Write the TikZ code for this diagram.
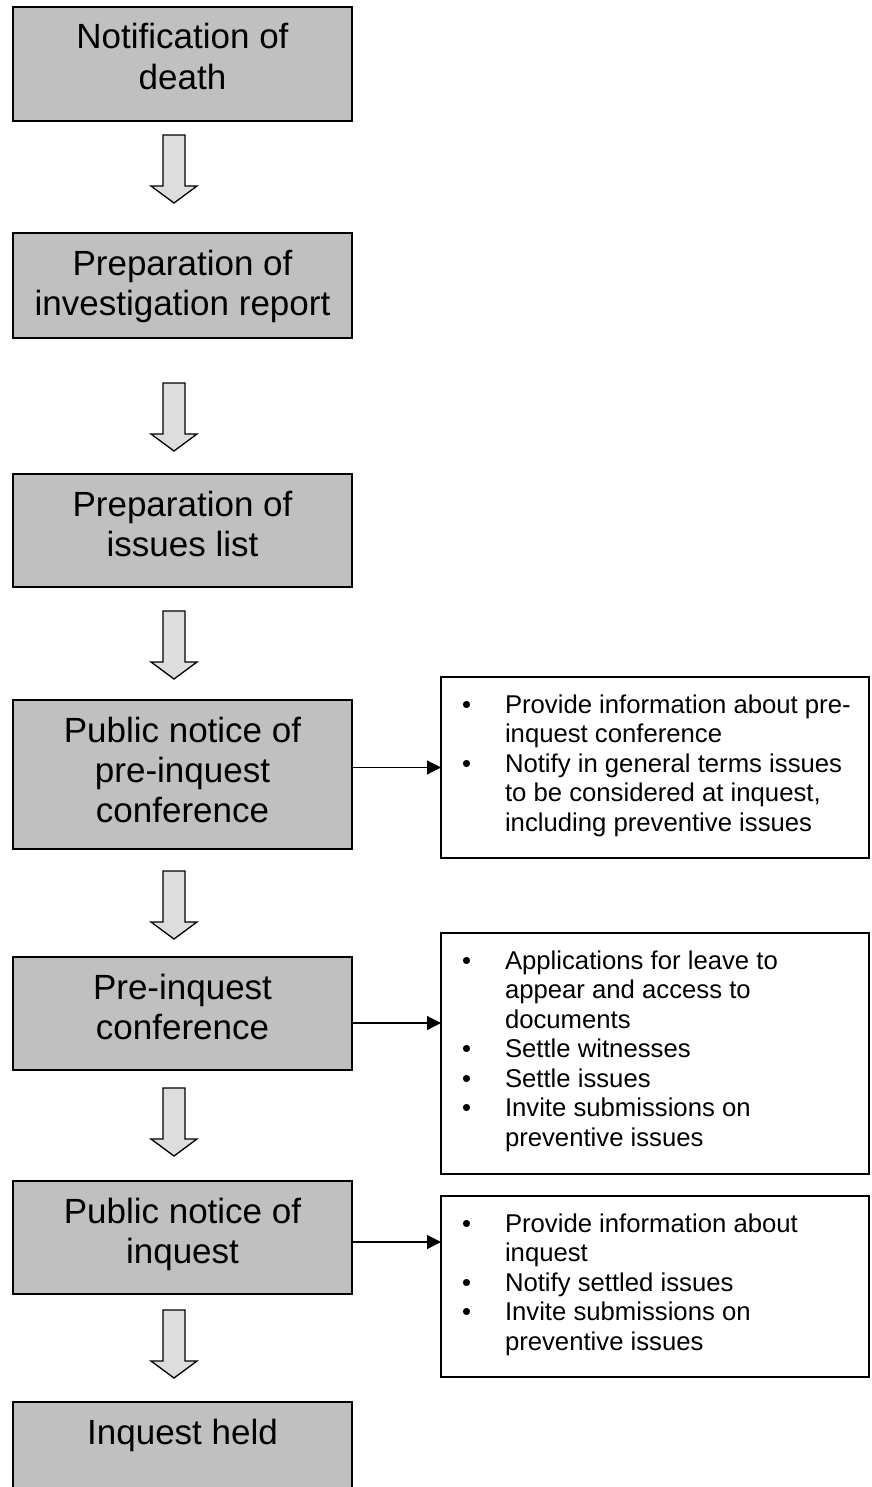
\documentclass[tikz,border=0pt]{standalone}
\usepackage{fontspec}
\setmainfont{Liberation Sans}
\usetikzlibrary{arrows.meta}
\definecolor{boxgray}{HTML}{C0C0C0}
\definecolor{arrowgray}{HTML}{DDDDDD}
\newcommand\bigtxt{\fontsize{35}{40.3}\selectfont}
\newcommand\smtxt{\fontsize{25.7}{29.5}\selectfont}
\newcommand\boxtext[2]{\parbox[c][#1][t]{339pt}{\centering\bigtxt\rule{0pt}{42pt}#2}}
\newcommand\bitem[1]{\par\noindent\hangindent=64pt\hangafter=1\hspace*{21pt}\makebox[43pt][l]{\strut\textbullet}#1}
\newcommand\sidetext[2]{\parbox[c][#1][t]{428pt}{\smtxt\vspace*{15.35pt}#2}}
\tikzset{
  bigbox/.style={draw=black, fill=boxgray, line width=1.4pt, inner sep=0pt, outer sep=0pt},
  sidebox/.style={draw=black, fill=white, line width=1.4pt, inner sep=0pt, outer sep=0pt},
  conn/.style={line width=1.2pt, -{Triangle[length=14pt,width=14pt]}},
  arrowshape/.style={draw=black, fill=arrowgray, line width=1.3pt, line join=miter},
  blockarrow/.pic={\draw[arrowshape] (-11,0) -- (11,0) -- (11,51) -- (23,51) -- (0,68) -- (-23,51) -- (-11,51) -- cycle;}
}
\begin{document}
\begin{tikzpicture}[x=1pt,y=-1pt]
\useasboundingbox (0,0) rectangle (871,1487);
\clip (0,0) rectangle (871,1487);
\node[bigbox] (b1) at (182.5,64) {\boxtext{114pt}{Notification of\\death}};
\node[bigbox] (b2) at (182.5,285.5) {\boxtext{105pt}{Preparation of\\investigation report}};
\node[bigbox] (b3) at (182.5,530.5) {\boxtext{113pt}{Preparation of\\issues list}};
\node[bigbox] (b4) at (182.5,774.5) {\boxtext{149pt}{Public notice of\\pre-inquest\\conference}};
\node[bigbox] (b5) at (182.5,1013.5) {\boxtext{113pt}{Pre-inquest\\conference}};
\node[bigbox] (b6) at (182.5,1237.5) {\boxtext{113pt}{Public notice of\\inquest}};
\node[bigbox] (b7) at (182.5,1458.5) {\boxtext{113pt}{Inquest held}};

\pic at (174,135) {blockarrow};
\pic at (174,383) {blockarrow};
\pic at (174,611) {blockarrow};
\pic at (174,871) {blockarrow};
\pic at (174,1088) {blockarrow};
\pic at (174,1310) {blockarrow};

\node[sidebox] (s1) at (655,767.5) {\sidetext{181pt}{\bitem{Provide information about pre-\\inquest conference}\bitem{Notify in general terms issues\\to be considered at inquest,\\including preventive issues}}};
\node[sidebox] (s2) at (655,1053.5) {\sidetext{241pt}{\bitem{Applications for leave to\\appear and access to\\documents}\bitem{Settle witnesses}\bitem{Settle issues}\bitem{Invite submissions on\\preventive issues}}};
\node[sidebox] (s3) at (655,1286.5) {\sidetext{181pt}{\bitem{Provide information about\\inquest}\bitem{Notify settled issues}\bitem{Invite submissions on\\preventive issues}}};

\draw[conn] (s1.west -| b4.east) -- (s1.west);
\draw[conn] ([yshift=-9.5pt]b5.east) -- ([yshift=-9.5pt]b5.east -| s2.west);
\draw[conn] ([yshift=-4.5pt]b6.east) -- ([yshift=-4.5pt]b6.east -| s3.west);
\end{tikzpicture}
\end{document}
